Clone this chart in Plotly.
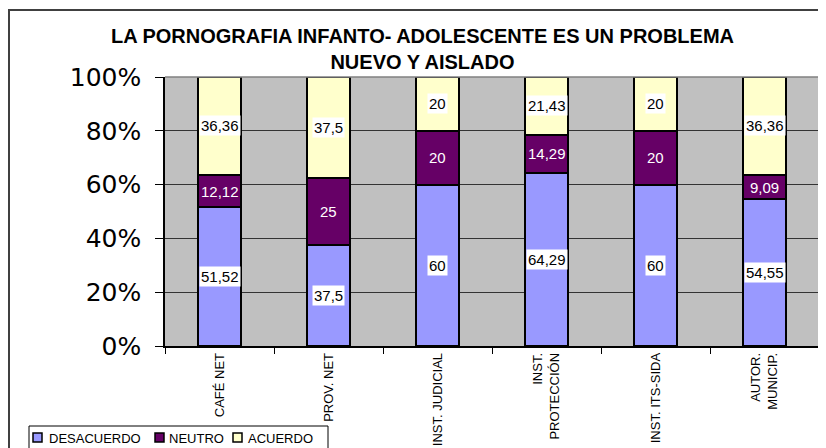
import plotly.graph_objects as go

categories = ["CAFÉ NET", "PROV. NET", "INST. JUDICIAL", "INST.<br>PROTECCIÓN", "INST. ITS-SIDA", "AUTOR.<br>MUNICIP."]
desacuerdo = [51.52, 37.5, 60, 64.29, 60, 54.55]
neutro = [12.12, 25, 20, 14.29, 20, 9.09]
acuerdo = [36.36, 37.5, 20, 21.43, 20, 36.36]
series_names = ["DESACUERDO", "NEUTRO", "ACUERDO"]
colors = ["#9999FF", "#660066", "#FFFFCC"]
title_lines = ["LA PORNOGRAFIA INFANTO- ADOLESCENTE ES UN PROBLEMA", "NUEVO Y AISLADO"]

def fmt(v):
    s = ("%.2f" % v).rstrip("0").rstrip(".")
    return s.replace(".", ",")

# page body has an 8px margin, so the figure is offset by 8px
OFF = 8
W, H = 826 - OFF, 448 - OFF
L, R, T, B = 165 - OFF, 7, 77 - OFF, 102
pw = W - L - R
ph = H - T - B
def px2x(px):
    return (px - OFF - L) / pw
def py2y(py):
    return (H - B - (py - OFF)) / ph

fig = go.Figure()
series = [desacuerdo, neutro, acuerdo]
for name, vals, col in zip(series_names, series, colors):
    fig.add_trace(go.Bar(
        x=categories, y=vals, name=name,
        marker=dict(color=col, line=dict(color="black", width=2)),
        hoverinfo="skip", showlegend=False,
    ))

annotations = []
for i, cat in enumerate(categories):
    base = 0
    for k, vals in enumerate(series):
        v = vals[i]
        mid = base + v / 2
        base += v
        if k == 1:
            annotations.append(dict(x=cat, y=mid, xref="x", yref="y", text=fmt(v), showarrow=False,
                                    font=dict(family="Liberation Sans, Arial", size=15, color="white")))
        else:
            annotations.append(dict(x=cat, y=mid, xref="x", yref="y", text=fmt(v), showarrow=False,
                                    bgcolor="white", borderpad=1,
                                    font=dict(family="Liberation Sans, Arial", size=15, color="black")))

annotations.append(dict(x=px2x(422), y=py2y(49), xref="paper", yref="paper",
                        text="<br>".join("<b>%s</b>" % t for t in title_lines),
                        showarrow=False, xanchor="center", yanchor="middle",
                        font=dict(family="Liberation Sans, Arial", size=20, color="black")))

shapes = [
    dict(type="rect", xref="paper", yref="paper", x0=px2x(9), x1=px2x(900), y0=py2y(10), y1=py2y(600),
         line=dict(color="#404040", width=2), fillcolor="rgba(0,0,0,0)", layer="above"),
    dict(type="line", xref="paper", yref="paper", x0=0, x1=1, y0=1, y1=1, line=dict(color="#808080", width=1.5)),
    dict(type="line", xref="paper", yref="paper", x0=1, x1=1, y0=0, y1=1, line=dict(color="#808080", width=1.5)),
    # legend box
    dict(type="rect", xref="paper", yref="paper", x0=px2x(29), x1=px2x(328), y0=py2y(426), y1=py2y(470),
         line=dict(color="black", width=1), fillcolor="white"),
]

# legend entries (swatches and labels)
legend_marker_x = [33, 155, 233]
legend_text_x = [47, 167, 246]
for name, col, mx, tx in zip(series_names, colors, legend_marker_x, legend_text_x):
    shapes.append(dict(type="rect", xref="paper", yref="paper", x0=px2x(mx), x1=px2x(mx + 9),
                       y0=py2y(433), y1=py2y(442), line=dict(color="black", width=1.5), fillcolor=col))
    annotations.append(dict(x=px2x(tx), y=py2y(438), xref="paper", yref="paper", text=name,
                            showarrow=False, xanchor="left", yanchor="middle",
                            font=dict(family="Liberation Sans, Arial", size=13, color="black")))

fig.update_layout(
    width=W, height=H,
    margin=dict(l=L, r=R, t=T, b=B, autoexpand=False),
    barmode="stack", bargap=0.6,
    plot_bgcolor="#C0C0C0", paper_bgcolor="white",
    showlegend=False,
    annotations=annotations,
    shapes=shapes,
    font=dict(family="Liberation Sans, Arial", color="black"),
)
fig.update_xaxes(showline=True, linecolor="black", linewidth=1.5, ticks="outside", tickson="boundaries",
                 ticklen=6, tickcolor="black", tickangle=-90, showgrid=False,
                 tickfont=dict(family="Liberation Sans, Arial", size=13, color="black"), automargin=False)
fig.update_yaxes(range=[0, 100], tickvals=[0, 20, 40, 60, 80, 100],
                 ticktext=["0%", "20%", "40%", "60%", "80%", "100%"],
                 showline=True, linecolor="black", linewidth=1.5, ticks="outside", ticklen=8, tickcolor="black",
                 ticklabelstandoff=9,
                 showgrid=True, gridcolor="#333333", gridwidth=1, zeroline=False,
                 tickfont=dict(family="DejaVu Sans, Liberation Sans", size=25, color="black"), automargin=False)

fig.write_html("out.html")
